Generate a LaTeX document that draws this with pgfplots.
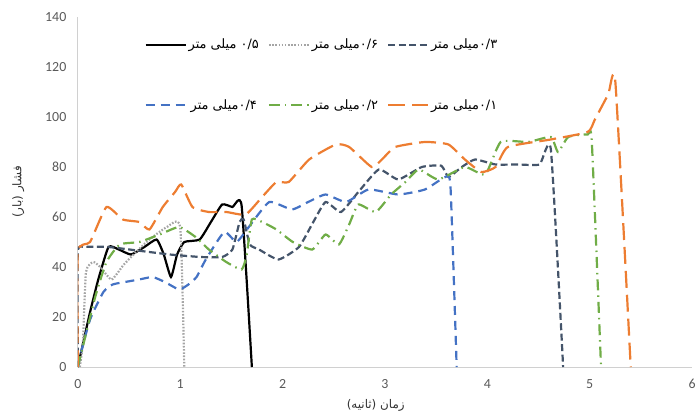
\documentclass[border=0pt]{standalone}
\usepackage{pgfplots}
\pgfplotsset{compat=1.18}
\usepackage{fontspec}
\setmainfont{Carlito}
\newfontfamily\fa[Script=Arabic]{DejaVu Sans}
\TeXXeTstate=1
\usetikzlibrary{calc}

\definecolor{cNavy}{HTML}{44546A}
\definecolor{cBlue}{HTML}{4472C4}
\definecolor{cGreen}{HTML}{70AD47}
\definecolor{cOrange}{HTML}{ED7D31}
\definecolor{cGray}{HTML}{A5A5A5}
\definecolor{cAxis}{HTML}{D0D0D0}
\definecolor{cText}{HTML}{595959}

\begin{document}
\begin{tikzpicture}
\begin{axis}[
    name=ax,
    scale only axis,
    width=616bp, height=351bp,
    xmin=0, xmax=6, ymin=0, ymax=140,
    xtick={0,1,2,3,4,5,6},
    ytick={0,20,40,60,80,100,120,140},
    axis x line=bottom, axis y line=left,
    axis line style={cAxis, line width=0.8bp, -},
    major tick length=0pt,
    /pgf/number format/assume math mode=true,
    tick label style={font=\fontsize{14}{16}\selectfont, text=cText},
    yticklabel style={xshift=-8bp},
    xticklabel style={yshift=-9bp},
    xlabel={\fa\beginR زمان (ثانیه)\endR},
    ylabel={\fa\beginR فشار (بار)\endR},
    label style={font=\fontsize{12}{14}\selectfont, text=black!80},
    xlabel style={at={(rel axis cs:0.485,-0.11)}, anchor=center},
    ylabel style={at={(rel axis cs:-0.097,0.5)}, anchor=center},
    legend image code/.code={\draw[#1] (0bp,0bp) -- (40bp,0bp);},
    legend style={draw=none, fill=none, inner sep=0pt,
        at={(axis cs:0.65,132)}, anchor=north west,
        font=\fa\fontsize{13}{15}\selectfont,
        row sep=45bp,
        /tikz/every even column/.append style={column sep=7bp}},
    legend columns=3,
    every axis plot/.append style={smooth, tension=0.3, line width=2.2bp},
]
% 0.5 mm
\addplot[black] coordinates {(0,0) (0.12,22) (0.2,35) (0.3,48) (0.4,47) (0.52,45)
  (0.65,48) (0.77,51) (0.84,45) (0.91,36) (0.97,45) (1.04,50) (1.19,51) (1.3,58)
  (1.41,65) (1.51,64) (1.6,64.5) (1.7,0)};
\addlegendentry{\beginR\beginL ۰/۵\endL{} میلی متر\endR}
% 0.6 mm
\addplot[cGray, dash pattern=on 1.6bp off 1.6bp] coordinates {(0.02,0) (0.05,10) (0.08,38)
  (0.15,42) (0.22,40) (0.33,35) (0.45,41) (0.57,46) (0.7,51) (0.87,56) (1.0,56) (1.04,0)};
\addlegendentry{\beginR\beginL ۰/۶\endL{}میلی متر\endR}
% 0.3 mm
\addplot[cNavy, dash pattern=on 7bp off 3.5bp] coordinates {(0,5) (0,46) (0.07,48)
  (0.3,48) (0.6,46.5) (0.9,45) (1.2,44) (1.41,44) (1.51,47) (1.58,58) (1.62,59)
  (1.68,49) (1.77,47) (1.96,43) (2.16,48) (2.3,58) (2.42,66) (2.57,62) (2.74,70)
  (2.94,79) (3.13,75) (3.36,80) (3.55,80.5) (3.62,76) (3.75,80) (3.88,83) (4.08,81)
  (4.3,81) (4.51,81) (4.62,87) (4.74,0)};
\addlegendentry{\beginR\beginL ۰/۳\endL{}میلی متر\endR}
% 0.4 mm
\addplot[cBlue, dash pattern=on 9bp off 6bp] coordinates {(0,0) (0.02,4) (0.12,19)
  (0.25,30) (0.34,33) (0.46,34) (0.6,35) (0.73,36) (0.85,34) (0.99,31) (1.08,33)
  (1.16,36) (1.25,43) (1.43,54) (1.55,50) (1.67,56) (1.87,66) (2.09,63) (2.25,66)
  (2.42,69) (2.62,66) (2.84,71) (3.13,69) (3.39,71) (3.59,76) (3.64,72) (3.7,0)};
\addlegendentry{\beginR\beginL ۰/۴\endL{}میلی متر\endR}
% 0.2 mm
\addplot[cGreen, dash pattern=on 11bp off 5bp on 1.5bp off 5bp] coordinates {(0,0)
  (0.17,28) (0.28,42) (0.41,49) (0.6,50) (0.8,53) (0.99,56) (1.15,52) (1.28,47)
  (1.45,42) (1.6,39) (1.65,45) (1.7,59) (1.8,58) (1.94,55) (2.1,50) (2.29,47)
  (2.42,53) (2.55,49) (2.65,57) (2.74,65) (2.91,62) (3.06,69) (3.2,74) (3.33,79)
  (3.52,75) (3.78,80) (3.98,77) (4.13,90) (4.4,90) (4.62,92) (4.69,86) (4.79,92)
  (4.98,93) (5.02,90) (5.11,0)};
\addlegendentry{\beginR\beginL ۰/۲\endL{}میلی متر\endR}
% 0.1 mm
\addplot[cOrange, dash pattern=on 17bp off 7bp] coordinates {(0,0) (0,46) (0.12,50)
  (0.28,64) (0.44,59) (0.6,58) (0.7,55) (0.83,64) (0.95,70) (1.01,73) (1.12,64)
  (1.28,62) (1.45,62) (1.64,61) (1.8,68) (1.94,74) (2.06,74) (2.26,83) (2.52,89)
  (2.65,88) (2.87,80) (2.97,83) (3.1,88) (3.39,90) (3.62,89) (3.78,83) (3.94,78)
  (4.08,80) (4.2,88) (4.62,91) (4.98,94) (5.05,99) (5.18,109) (5.25,114) (5.4,0)};
\addlegendentry{\beginR\beginL ۰/۱\endL{}میلی متر\endR}
\end{axis}
\path[use as bounding box] ($(ax.south west)+(-78bp,-53bp)$) rectangle ($(ax.north east)+(5bp,17bp)$);
\end{tikzpicture}
\end{document}
